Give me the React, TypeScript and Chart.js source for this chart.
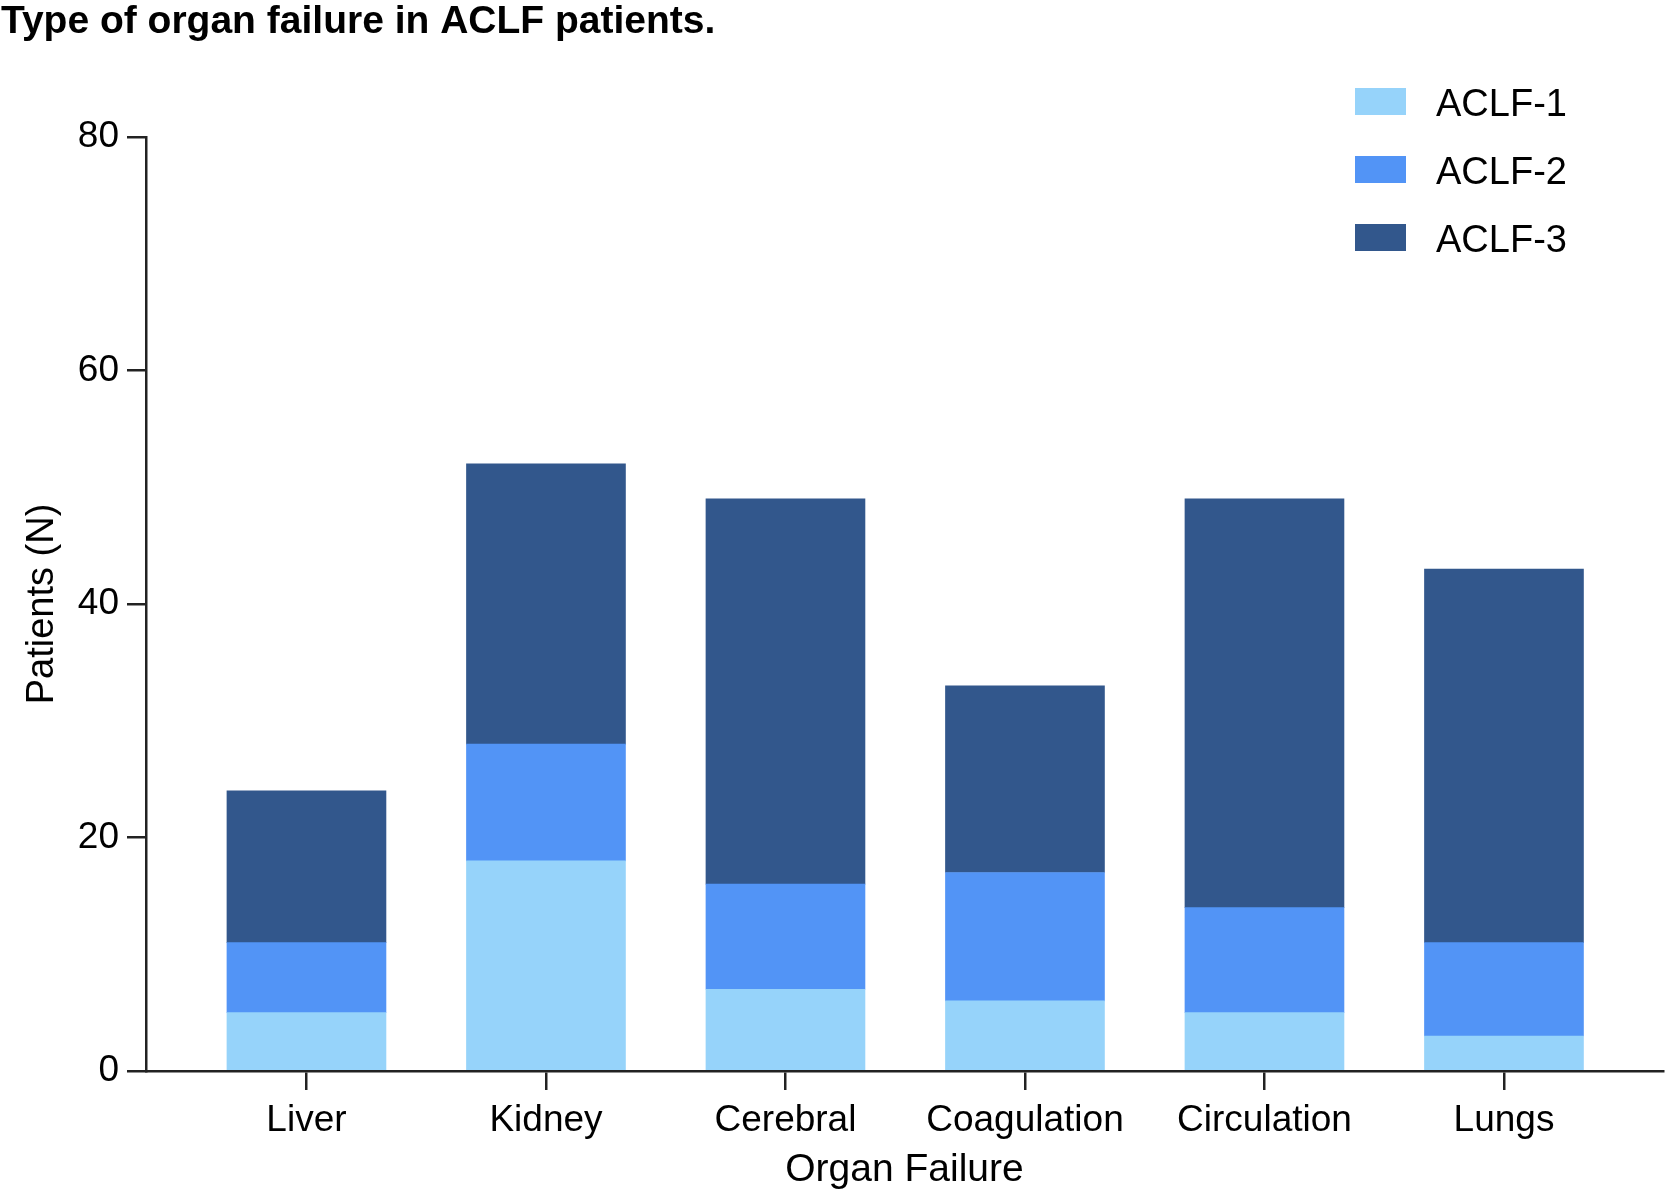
import React, { useEffect, useRef } from "react";
import { Chart, registerables } from "chart.js";

Chart.register(...registerables);

const TITLE = "Type of organ failure in ACLF patients.";
const categories = ["Liver", "Kidney", "Cerebral", "Coagulation", "Circulation", "Lungs"];
const seriesNames = ["ACLF-1", "ACLF-2", "ACLF-3"];
const aclf1 = [5, 18, 7, 6, 5, 3];
const aclf2 = [6, 10, 9, 11, 9, 8];
const aclf3 = [13, 24, 33, 16, 35, 32];
const seriesColors = ["#96D3FA", "#5294F6", "#32578C"];
const yTicks = [0, 20, 40, 60, 80];

const FONT = "'Liberation Sans', Arial, Helvetica, sans-serif";

const titleAndLegend = {
  id: "titleAndLegend",
  afterDraw(chart: any) {
    const ctx = chart.ctx;
    ctx.save();
    ctx.fillStyle = "#000";
    ctx.textAlign = "left";
    ctx.textBaseline = "alphabetic";
    ctx.font = `bold 39px ${FONT}`;
    ctx.fillText(TITLE, 1, 33);
    ctx.font = `38px ${FONT}`;
    chart.data.datasets.forEach((ds: any, i: number) => {
      const y = 88 + 68 * i;
      ctx.fillStyle = ds.backgroundColor;
      ctx.fillRect(1355, y, 51, 27);
      ctx.fillStyle = "#000";
      ctx.fillText(ds.label, 1436, y + 28);
    });
    ctx.restore();
  },
};

export default function App() {
  const ref = useRef<HTMLCanvasElement>(null);
  useEffect(() => {
    if (!ref.current) return;
    const seriesValues = [aclf1, aclf2, aclf3];
    const chart = new Chart(ref.current, {
      type: "bar",
      data: {
        datasets: seriesNames.map((name, s) => ({
          label: name,
          data: seriesValues[s].map((v, i) => ({ x: i, y: v })),
          backgroundColor: seriesColors[s],
          borderWidth: 0,
          barThickness: 159,
        })),
      },
      options: {
        animation: false,
        responsive: false,
        devicePixelRatio: 1,
        layout: { padding: { top: 137, right: 12, bottom: 0, left: 0 } },
        plugins: {
          legend: { display: false },
          title: { display: false },
          tooltip: { enabled: false },
        },
        scales: {
          x: {
            type: "linear",
            stacked: true,
            offset: false,
            bounds: "data",
            min: -0.67,
            max: 5.664,
            afterBuildTicks: (scale: any) => {
              scale.ticks = categories.map((_, i) => ({ value: i }));
            },
            afterFit: (scale: any) => {
              scale.height = 130;
            },
            ticks: {
              autoSkip: false,
              maxRotation: 0,
              padding: 9,
              color: "#000",
              font: { family: FONT, size: 37 },
              callback: (v: any) => categories[v] ?? "",
            },
            grid: {
              offset: false,
              drawOnChartArea: false,
              drawTicks: true,
              tickLength: 19,
              color: "#222",
              lineWidth: 2.5,
            },
            border: { display: true, color: "#222", width: 2.5 },
            title: {
              display: true,
              text: "Organ Failure",
              color: "#000",
              font: { family: FONT, size: 39 },
              padding: { top: 0, bottom: 7 },
            },
          },
          y: {
            stacked: true,
            min: 0,
            max: 80,
            afterBuildTicks: (scale: any) => {
              scale.ticks = yTicks.map((v) => ({ value: v }));
            },
            afterFit: (scale: any) => {
              scale.width = 146;
            },
            ticks: {
              padding: 8,
              color: "#000",
              font: { family: FONT, size: 37 },
            },
            grid: {
              drawOnChartArea: false,
              drawTicks: true,
              tickLength: 19,
              color: "#222",
              lineWidth: 2.5,
            },
            border: { display: true, color: "#222", width: 2.5 },
            title: {
              display: true,
              text: "Patients (N)",
              color: "#000",
              font: { family: FONT, size: 38 },
              padding: { top: 20, bottom: 0 },
            },
          },
        },
      } as any,
      plugins: [titleAndLegend],
    });
    return () => chart.destroy();
  }, []);
  return (
    <div style={{ position: "absolute", left: 0, top: 0, width: 1675, height: 1201, background: "#fff" }}>
      <canvas ref={ref} width={1675} height={1201} />
    </div>
  );
}
